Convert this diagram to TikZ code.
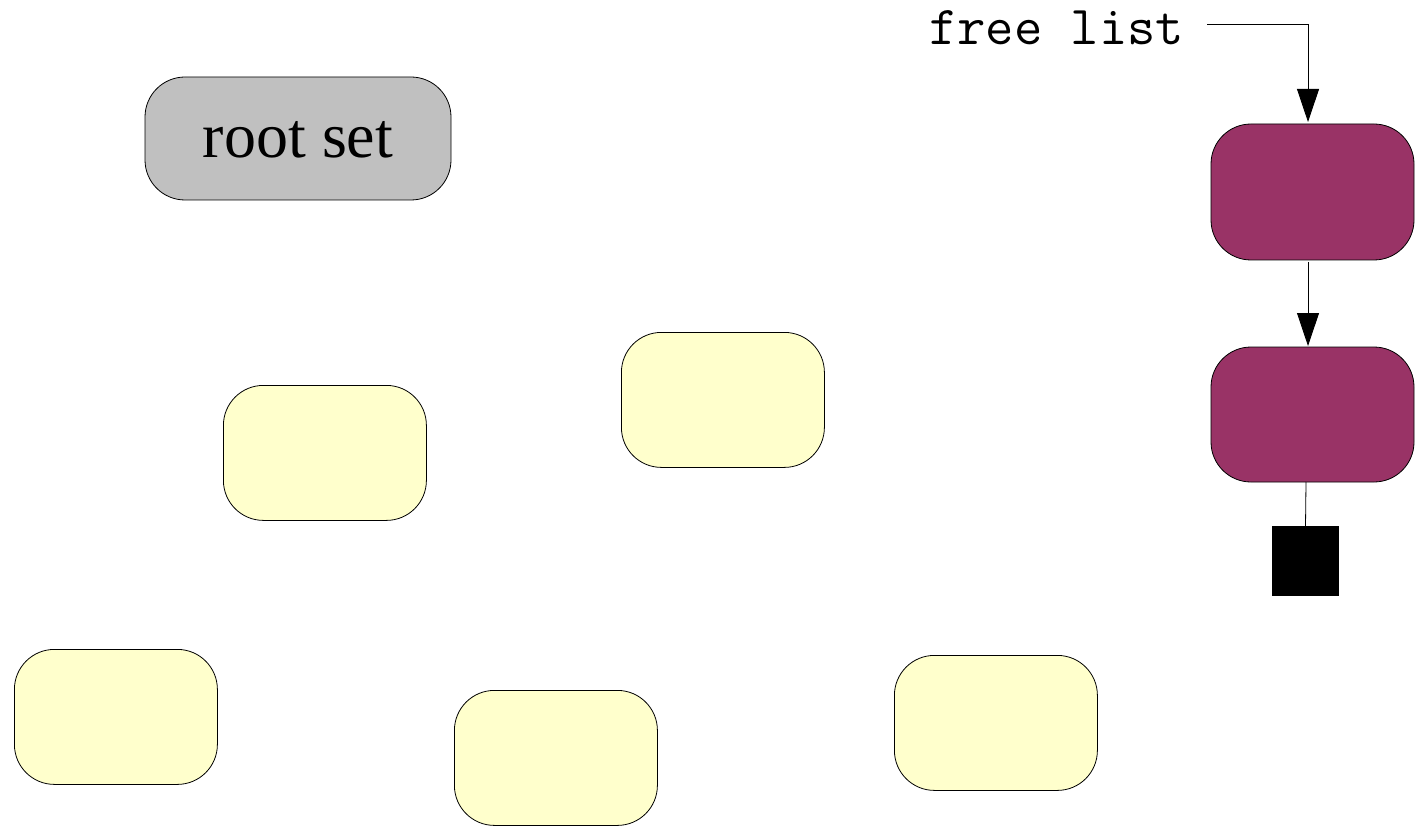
\documentclass[tikz,border=0pt]{standalone}
\usepackage{fontspec}
\setmainfont{Liberation Serif}
\usetikzlibrary{arrows.meta}
\definecolor{rootgray}{HTML}{C0C0C0}
\definecolor{freepurple}{HTML}{993366}
\definecolor{objyellow}{HTML}{FFFFCC}
\begin{document}
\begin{tikzpicture}[x=1pt,y=-1pt,
  obj/.style={draw=black,line width=0.8pt,rounded corners=40pt},
  link/.style={line width=0.8pt},
  arr/.style={link,-{Triangle[width=22pt,length=33pt]}}]
\useasboundingbox (0,0) rectangle (1418,826);
% root set
\draw[obj,fill=rootgray] (145,77) rectangle (451,200);
\node (root) at (298,140) {\fontsize{64}{70}\selectfont root set};
% free list label
\node[anchor=base west,inner sep=0pt] (fl) at (929,45) {\fontsize{55}{58}\selectfont\ttfamily free list};
% free blocks
\node[obj,fill=freepurple,minimum width=203pt,minimum height=136pt,inner sep=0pt] (f1) at (1312.5,192) {};
\node[obj,fill=freepurple,minimum width=203pt,minimum height=135pt,inner sep=0pt] (f2) at (1312.5,414.5) {};
\node[fill=black,minimum width=67pt,minimum height=70pt,inner sep=0pt] (nil) at (1305.5,561) {};
\coordinate (flend) at (1207,24);
\coordinate (corner) at (1308,24);
\draw[arr] (flend) -- (corner) -- (1308,122);
\draw[arr] (1308,262) -- (1308,346);
\draw[link] (1306,482) -- (nil.north);
% yellow objects
\foreach \n/\x/\y in {a/223/385, b/621/332, c/14/649, d/454/690, e/894/655}{
  \node[obj,fill=objyellow,minimum width=203pt,minimum height=135pt,inner sep=0pt,anchor=north west] (\n) at (\x,\y) {};
}
\end{tikzpicture}
\end{document}
